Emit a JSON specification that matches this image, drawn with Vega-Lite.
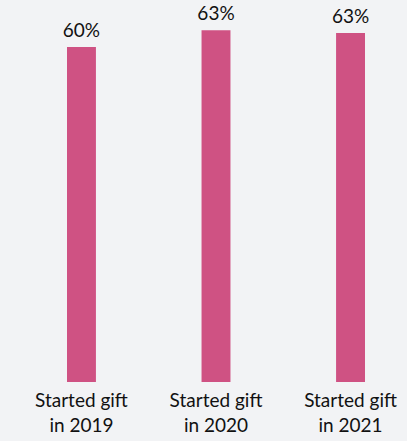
{
  "$schema": "https://vega.github.io/schema/vega-lite/v6.json",
  "width": 298,
  "height": 363,
  "autosize": "none",
  "padding": {"left": 67, "top": 19, "right": 42, "bottom": 59},
  "background": "#f2f3f5",
  "config": {"view": {"stroke": null}, "font": "Lato"},
  "data": {"values": [
    {"year": "2019", "value": 60.0, "label": "60%"},
    {"year": "2020", "value": 63.0, "label": "63%"},
    {"year": "2021", "value": 62.5, "label": "63%"}
  ]},
  "encoding": {
    "x": {"field": "year", "type": "nominal", "sort": null,
      "scale": {"paddingInner": 0.785, "paddingOuter": 0},
      "axis": {"title": null, "domain": false, "ticks": false, "labelAngle": 0,
        "labelExpr": "['Started gift', 'in ' + datum.label]",
        "labelFont": "Lato", "labelFontSize": 19, "labelColor": "#111111",
        "labelLineHeight": 25, "labelPadding": 9}},
    "y": {"field": "value", "type": "quantitative",
      "scale": {"domain": [0, 65], "nice": false}, "axis": null}
  },
  "layer": [
    {"mark": {"type": "bar", "color": "#cf5283"}},
    {"mark": {"type": "text", "baseline": "alphabetic", "dy": -10, "fontSize": 19, "font": "Lato", "color": "#111111"},
     "encoding": {"text": {"field": "label"}}}
  ]
}
